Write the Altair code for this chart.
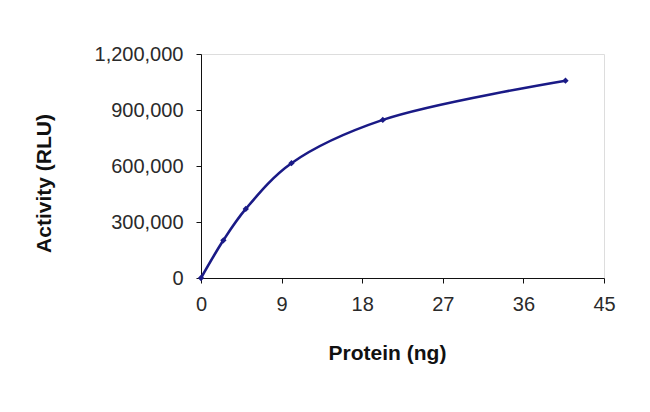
import altair as alt
import pandas as pd

protein = [0, 2.5, 5, 10.1, 20.3, 40.7]
activity = [0, 202000, 370000, 615000, 847000, 1057000]
x_ticks = [0, 9, 18, 27, 36, 45]
y_ticks = [0, 300000, 600000, 900000, 1200000]

df = pd.DataFrame({"protein": protein, "activity": activity})

navy = "#1a1a86"
font = "Liberation Sans"

x = alt.X(
    "protein:Q",
    scale=alt.Scale(domain=[0, 45], nice=False, zero=True),
    axis=alt.Axis(
        values=x_ticks,
        title="Protein (ng)",
        grid=False,
        domainColor="#111",
        tickColor="#111",
        tickSize=5,
        labelPadding=11,
        labelFontSize=20,
        labelFont=font,
        labelColor="#2a2a2a",
        titleFont=font,
        titleFontSize=21,
        titleFontWeight="bold",
        titleColor="#111",
        titleX=186,
        titleY=75,
        titleAnchor="middle",
        titleAlign="center",
        titleBaseline="middle",
        labelFlush=False,
    ),
)
y = alt.Y(
    "activity:Q",
    scale=alt.Scale(domain=[0, 1200000], nice=False),
    axis=alt.Axis(
        values=y_ticks,
        format=",d",
        title="Activity (RLU)",
        grid=False,
        domainColor="#111",
        tickColor="#111",
        tickSize=5,
        labelPadding=13,
        labelFontSize=20,
        labelFont=font,
        labelColor="#2a2a2a",
        titleFont=font,
        titleFontSize=21,
        titleFontWeight="bold",
        titleColor="#111",
        titleAngle=270,
        titleX=-157,
        titleY=129,
        titleAlign="center",
        titleBaseline="middle",
        labelFlush=False,
    ),
)

line = alt.Chart(df).mark_line(
    interpolate="catmull-rom", color=navy, strokeWidth=2.6
).encode(x=x, y=y)

points = alt.Chart(df).mark_point(
    shape="diamond", filled=True, color=navy, size=40, opacity=1
).encode(x=x, y=y)

chart = (
    alt.layer(line, points)
    .properties(
        width=403,
        height=224,
        autosize=alt.AutoSizeParams(type="none"),
        padding={"left": 193, "top": 46, "right": 20, "bottom": 90},
    )
    .configure_view(stroke=None)
    .configure(background="white")
)

chart.save("out.html", embed_options={"renderer": "svg", "actions": False})
